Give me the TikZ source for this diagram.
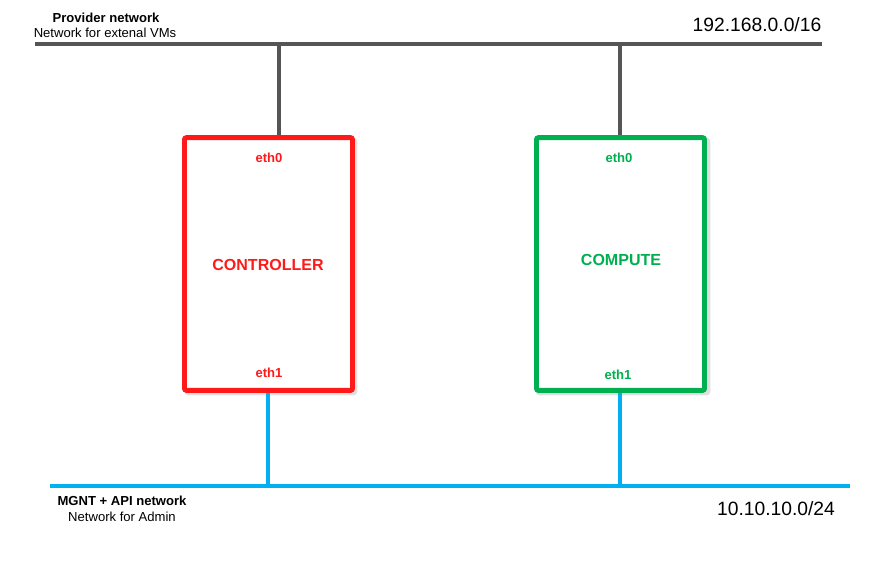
\documentclass[tikz,border=0pt]{standalone}
\usepackage{fontspec}
\setmainfont{Liberation Sans}
\usetikzlibrary{calc}
\definecolor{ctrlred}{HTML}{FF1A1A}
\definecolor{compgreen}{HTML}{00B050}
\definecolor{mgntblue}{HTML}{00B0F0}
\definecolor{provgray}{HTML}{555555}
\tikzset{
  host/.style={draw,line width=3.5pt,rounded corners=1.5pt,fill=white,
    minimum width=4.2cm,minimum height=6.32cm,inner sep=0pt},
  hostname/.style={font=\fontsize{11.4}{14}\selectfont\bfseries},
  ifname/.style={font=\fontsize{9.3}{11}\selectfont\bfseries},
  provline/.style={provgray,line width=2.9pt},
  mgntline/.style={mgntblue,line width=3.3pt},
  nettitle/.style={font=\fontsize{9.3}{11}\selectfont\bfseries},
  netnote/.style={font=\fontsize{9.3}{11}\selectfont},
  netaddr/.style={font=\fontsize{13.7}{16}\selectfont}
}
\begin{document}
\begin{tikzpicture}[x=0.025cm,y=-0.025cm]
	\useasboundingbox (0,0) rectangle (887,561);
	
	% shadows
	\draw[gray!25,line width=3.5pt,rounded corners=1.5pt] (187,140) rectangle (355,393);
	\draw[gray!25,line width=3.5pt,rounded corners=1.5pt] (538,140) rectangle (708,393);
	
	% hosts
	\node[host,draw=ctrlred] (ctrl) at (268.5,264) {};
	\node[host,draw=compgreen] (comp) at (620.5,264) {};
	\node[hostname,text=ctrlred] (ctrlname) at (268,265) {CONTROLLER};
	\node[hostname,text=compgreen] (compname) at (621,260) {COMPUTE};
	\node[ifname,text=ctrlred] (ctrleth0) at (269,158) {eth0};
	\node[ifname,text=ctrlred] (ctrleth1) at (269,373) {eth1};
	\node[ifname,text=compgreen] (competh0) at (619,158) {eth0};
	\node[ifname,text=compgreen] (competh1) at (618,375) {eth1};
	
	% provider network
	\coordinate (provW) at (35,44);
	\coordinate (provE) at (822,44);
	\coordinate (ctrlup) at (279,44);
	\coordinate (compup) at (620,44);
	\draw[provline] (provW) -- (provE);
	\draw[provline] (ctrlup) -- (ctrlup |- ctrl.north);
	\draw[provline] (compup) -- (compup |- comp.north);
	\node[nettitle] (provtitle) at (106,18) {Provider network};
	\node[netnote] (provnote) at (105,33) {Network for extenal VMs};
	\node[netaddr] (provaddr) at (757,25) {192.168.0.0/16};
	
	% management network
	\coordinate (mgntW) at (50,486);
	\coordinate (mgntE) at (850,486);
	\coordinate (ctrldown) at (268,486);
	\coordinate (compdown) at (620,486);
	\draw[mgntline] (mgntW) -- (mgntE);
	\draw[mgntline] (ctrldown) -- (ctrldown |- ctrl.south);
	\draw[mgntline] (compdown) -- (compdown |- comp.south);
	\node[nettitle] (mgnttitle) at (122,501) {MGNT + API network};
	\node[netnote] (mgntnote) at (122,517) {Network for Admin};
	\node[netaddr] (mgntaddr) at (776,509) {10.10.10.0/24};
\end{tikzpicture}
\end{document}
